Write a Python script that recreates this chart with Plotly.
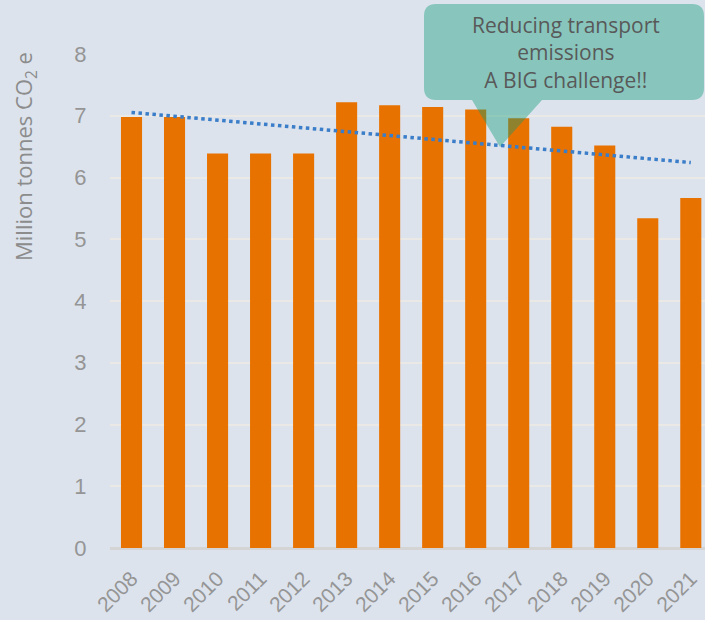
import numpy as np
import plotly.graph_objects as go

years = ["2008", "2009", "2010", "2011", "2012", "2013", "2014",
         "2015", "2016", "2017", "2018", "2019", "2020", "2021"]
emissions = [6.98, 6.98, 6.39, 6.39, 6.39, 7.22, 7.17,
             7.14, 7.10, 6.96, 6.82, 6.52, 5.34, 5.67]
y_ticks = [0, 1, 2, 3, 4, 5, 6, 7, 8]
callout_text = "Reducing transport<br>emissions<br>A BIG challenge!!"
y_title = "Million tonnes CO<sub>2</sub> e"

# Linear trendline (least squares) from the data
idx = np.arange(len(years))
slope, intercept = np.polyfit(idx, emissions, 1)
trend = slope * idx + intercept

BG = "#dce3ed"
GRAY = "#959595"
WIDE = "Open Sans, DejaVu Sans, sans-serif"

fig = go.Figure()
fig.add_trace(go.Bar(
    x=idx, y=emissions, width=0.49,
    marker=dict(color="#e87200", line=dict(width=0)),
    showlegend=False, hoverinfo="skip",
))
fig.add_trace(go.Scatter(
    x=idx, y=trend, mode="lines",
    line=dict(color="#3a7dc8", width=3.5, dash="dot"),
    showlegend=False, hoverinfo="skip",
))

W, H = 705, 620
L, R, T, B = 110, 0, 54, 72

def px(x):
    return (x - L) / (W - L - R)

def py(y):
    return 1 - (y - T) / (H - T - B)

# Callout bubble (rounded rectangle with pointer), paper coords
x0, x1, y0, y1, r = 424, 704, 4, 100, 12
tipx, tipy, bl, br = 500, 147, 472, 542
pts = [
    f"M {px(x0 + r)} {py(y0)}",
    f"L {px(x1 - r)} {py(y0)}",
    f"Q {px(x1)} {py(y0)} {px(x1)} {py(y0 + r)}",
    f"L {px(x1)} {py(y1 - r)}",
    f"Q {px(x1)} {py(y1)} {px(x1 - r)} {py(y1)}",
    f"L {px(br)} {py(y1)}",
    f"L {px(tipx)} {py(tipy)}",
    f"L {px(bl)} {py(y1)}",
    f"L {px(x0 + r)} {py(y1)}",
    f"Q {px(x0)} {py(y1)} {px(x0)} {py(y1 - r)}",
    f"L {px(x0)} {py(y0 + r)}",
    f"Q {px(x0)} {py(y0)} {px(x0 + r)} {py(y0)}",
    "Z",
]
fig.add_shape(type="path", xref="paper", yref="paper", path=" ".join(pts),
              fillcolor="rgba(10,155,118,0.40)", line=dict(width=0), layer="above")

fig.add_annotation(
    xref="paper", yref="paper", x=px(566), y=py(52),
    text=callout_text, showarrow=False, xanchor="center", yanchor="middle",
    font=dict(family=WIDE, size=21, color="#595959"),
    align="center",
)

# Y-axis title, placed near the top as in the reference
fig.add_annotation(
    xref="paper", yref="paper", x=px(25), y=py(157),
    text=y_title, showarrow=False, textangle=-90,
    xanchor="center", yanchor="middle",
    font=dict(family=WIDE, size=22, color="#8c8c8c"),
)

fig.update_layout(
    width=W, height=H,
    margin=dict(l=L, r=R, t=T, b=B),
    paper_bgcolor=BG, plot_bgcolor=BG,
    font=dict(family="Liberation Sans, Arial, sans-serif", color=GRAY),
    xaxis=dict(
        range=[-0.5, 13.33],
        tickmode="array", tickvals=idx, ticktext=years,
        tickangle=-45, tickfont=dict(size=21, color=GRAY),
        ticks="outside", ticklen=9, tickcolor="rgba(0,0,0,0)",
        showgrid=False, zeroline=False, showline=False,
        fixedrange=True,
    ),
    yaxis=dict(
        range=[0, 8], tickvals=y_ticks,
        tickfont=dict(size=22, color=GRAY),
        ticks="outside", ticklen=18, tickcolor="rgba(0,0,0,0)",
        showgrid=True, gridcolor="#ebe9e6", gridwidth=1.5,
        zeroline=True, zerolinecolor="#d4d4d4", zerolinewidth=2.5,
        showline=False, fixedrange=True,
    ),
)

fig.write_html("out.html", config={"displayModeBar": False},
               post_script="document.body.style.margin='0';")
